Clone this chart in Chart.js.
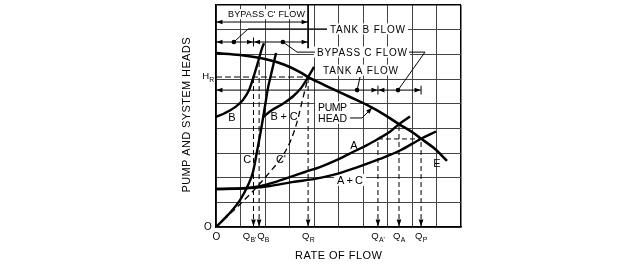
<!DOCTYPE html>
<html><head><meta charset="utf-8">
<script src="https://cdn.jsdelivr.net/npm/chart.js@4"></script>
<style>html,body{margin:0;padding:0;background:#fff;}canvas{display:block;}</style>
</head><body>
<canvas id="c" width="642" height="264"></canvas>
<script>
// ---------- data (x = rate of flow units, y = head units) ----------
const pumpHeadCurve = [[0,7.05],[0.98,6.97],[2.0,6.81],[2.82,6.57],[3.43,6.28],[3.76,6.08],[4.24,5.84],[4.86,5.55],[5.47,5.27],[6.16,4.95],[6.90,4.54],[7.47,4.17],[8.0,3.85],[8.37,3.58],[8.94,3.16],[9.43,2.68]];
const systemA = [[0,1.54],[0.98,1.56],[1.80,1.66],[2.41,1.82],[3.10,2.05],[3.63,2.23],[4.24,2.43],[4.94,2.72],[5.67,3.08],[6.16,3.32],[6.61,3.57],[7.10,3.86],[7.47,4.17],[7.92,4.48]];
const systemAC = [[0,1.54],[1.39,1.58],[2.20,1.66],[3.10,1.82],[4.04,1.95],[4.78,2.11],[5.67,2.39],[6.69,2.76],[7.51,3.10],[8.37,3.58],[8.98,3.87]];
const systemB = [[0,4.46],[0.37,4.62],[0.78,4.86],[1.10,5.15],[1.35,5.55],[1.53,6.08],[1.66,6.50],[1.76,6.85],[1.88,7.25],[1.96,7.45]];
const systemC = [[0,0],[0.49,0.49],[0.98,1.09],[1.31,1.70],[1.51,2.23],[1.67,3.04],[1.80,3.73],[1.92,4.42],[2.04,5.15],[2.12,5.63],[2.29,6.36],[2.45,7.05]];
const systemBC = [[1.92,4.46],[2.29,4.74],[2.72,4.99],[3.16,5.31],[3.47,5.63],[3.76,6.08],[4.0,6.49]];
const systemCPrime = [[0,0],[0.78,0.73],[1.59,1.54],[2.20,2.23],[2.69,2.84],[3.06,3.53],[3.31,4.26],[3.51,5.07],[3.63,5.55],[3.76,6.08]];

const headRefHR = 6.08;
const flowTickValues = [1.53, 1.76, 3.76, 6.61, 7.47, 8.37];
const flowTickSubs   = ["B'", "B", "R", "A'", "A", "P"];
const flowTickTops   = [6.08, 6.85, 6.08, 3.57, 4.17, 3.57];

// flow spans: [head level, from, to, dot]
const flowSpans = [
  [8.31, 0, 3.76, null],    // bypass C' flow
  [7.50, 0, 1.53, 0.73],    // tank B flow
  [7.50, 1.53, 3.76, 2.73], // bypass C flow
  [5.55, 0, 6.61, 5.76],    // tank A flow
  [5.55, 6.61, 8.37, 7.43]  // bypass C flow
];
const leaders = [
  [[0.73,7.50],[1.31,8.03],[4.53,8.03]],
  [[2.73,7.50],[3.31,7.09],[4.04,7.09]],
  [[7.88,7.09],[8.53,7.09],[7.43,5.55]],
  [[5.76,5.55],[5.88,6.08]],
  [[5.47,4.42],[5.96,4.42],[6.37,4.83]]
];
// [text, x, y, width(px) or null, boxed]
const textLabels = [
  ["BYPASS C' FLOW", 2.06, 8.63, 77, true, 9],
  ["TANK B FLOW", 6.18, 8.03, 75, true, 10],
  ["BYPASS C FLOW", 5.96, 7.09, 90, true, 10],
  ["TANK A FLOW", 5.90, 6.36, 75, true, 10],
  ["PUMP", 4.76, 4.86, 29, true, 10.5],
  ["HEAD", 4.76, 4.42, 29, true, 10.5],
  ["A", 5.63, 3.32, null, false, 11],
  ["A+C", 5.47, 1.91, 26, true, 11],
  ["E", 9.02, 2.59, null, false, 11],
  ["B", 0.65, 4.46, null, false, 11],
  ["B+C", 2.78, 4.50, 27, false, 11],
  ["C", 1.27, 2.76, null, false, 11],
  ["C'", 2.65, 2.76, null, false, 11]
];

// ---------- helpers ----------
const FONT = '"Liberation Sans", Arial, Helvetica, sans-serif';
const pts = a => a.map(p => ({x: p[0], y: p[1]}));
function drawText(ctx, text, cx, cy, size, width) {
  ctx.font = size + 'px ' + FONT;
  ctx.letterSpacing = '0px';
  const w0 = ctx.measureText(text).width;
  let sp = 0;
  if (width && text.length > 1) sp = (width - w0) / (text.length - 1);
  ctx.letterSpacing = sp + 'px';
  const w = width || w0;
  ctx.textAlign = 'left'; ctx.textBaseline = 'alphabetic';
  ctx.fillText(text, cx - w / 2, cy + size * 0.36);
  ctx.letterSpacing = '0px';
}
function drawSub(ctx, main, sub, cx, cy, size, align) {
  ctx.letterSpacing = '0px';
  ctx.font = size + 'px ' + FONT;
  const wm = ctx.measureText(main).width;
  ctx.font = (size * 0.72) + 'px ' + FONT;
  const ws = ctx.measureText(sub).width;
  const tw = wm + ws;
  let left = align === 'right' ? cx - tw : cx - tw / 2;
  ctx.textAlign = 'left'; ctx.textBaseline = 'alphabetic';
  ctx.font = size + 'px ' + FONT;
  ctx.fillText(main, left, cy + size * 0.36);
  ctx.font = (size * 0.72) + 'px ' + FONT;
  ctx.fillText(sub, left + wm + 0.3, cy + size * 0.36 + size * 0.25);
}
function arrowHead(ctx, x, y, dx, dy, len, half) {
  const nx = -dy, ny = dx;
  ctx.beginPath();
  ctx.moveTo(x, y);
  ctx.lineTo(x - dx * len + nx * half, y - dy * len + ny * half);
  ctx.lineTo(x - dx * len - nx * half, y - dy * len - ny * half);
  ctx.closePath(); ctx.fill();
}

const curveStyle = (data, w) => ({data: pts(data), showLine: true, borderColor: '#000', borderWidth: w, pointRadius: 0, cubicInterpolationMode: 'monotone', fill: false});
const thinStyle = (data, dash) => ({data: pts(data), showLine: true, borderColor: '#000', borderWidth: 1, pointRadius: 0, tension: 0, borderDash: dash || [], fill: false});

const datasets = [
  curveStyle(pumpHeadCurve, 2.6),
  curveStyle(systemA, 2.4),
  curveStyle(systemAC, 2.4),
  curveStyle(systemB, 2.4),
  curveStyle(systemC, 2.4),
  curveStyle(systemBC, 2.4),
  Object.assign(curveStyle(systemCPrime, 1.3), {borderDash: [6, 4]}),
  thinStyle([[0, headRefHR], [flowTickValues[2], headRefHR]], [6, 3]),
  thinStyle([[flowTickValues[3], flowTickTops[3]], [flowTickValues[5], flowTickTops[5]]], [5, 3])
];
flowTickValues.forEach((q, i) => datasets.push(thinStyle([[q, 0], [q, flowTickTops[i]]], [5, 3])));
flowSpans.forEach(s => datasets.push(thinStyle([[s[1], s[0]], [s[2], s[0]]])));
leaders.forEach(l => datasets.push(thinStyle(l)));
// end ticks of the flow spans
datasets.push(thinStyle([[flowTickValues[2], 9], [flowTickValues[2], 7.25]]));
datasets.push(thinStyle([[flowTickValues[0], 7.32], [flowTickValues[0], 7.68]]));
datasets.push(thinStyle([[flowTickValues[3], 5.37], [flowTickValues[3], 5.73]]));
datasets.push(thinStyle([[flowTickValues[5], 5.37], [flowTickValues[5], 5.73]]));

const annot = {
  id: 'annot',
  beforeDatasetsDraw(chart) {
    const ctx = chart.ctx, xs = chart.scales.x, ys = chart.scales.y;
    ctx.save();
    ctx.fillStyle = '#fff';
    textLabels.forEach(([t, x, y, w, boxed, size]) => {
      if (!boxed) return;
      const cx = xs.getPixelForValue(x), cy = ys.getPixelForValue(y);
      ctx.fillRect(cx - w / 2 - 3, cy - size * 0.55, w + 6, size * 1.1);
    });
    ctx.restore();
  },
  afterDatasetsDraw(chart) {
    const ctx = chart.ctx, xs = chart.scales.x, ys = chart.scales.y, ca = chart.chartArea;
    ctx.save();
    ctx.fillStyle = '#000';
    // labels
    textLabels.forEach(([t, x, y, w, boxed, size]) => {
      drawText(ctx, t, xs.getPixelForValue(x), ys.getPixelForValue(y), size, w);
    });
    // span arrows and dots
    flowSpans.forEach(([h, a, b, d]) => {
      const y = ys.getPixelForValue(h), xa = xs.getPixelForValue(a), xb = xs.getPixelForValue(b);
      arrowHead(ctx, xa + 0.5, y, -1, 0, 6, 2.3);
      arrowHead(ctx, xb - 0.5, y, 1, 0, 6, 2.3);
      if (d !== null) { ctx.beginPath(); ctx.arc(xs.getPixelForValue(d), y, 2.3, 0, Math.PI * 2); ctx.fill(); }
    });
    // pump head leader arrow
    const ph = leaders[4];
    { const p1 = [xs.getPixelForValue(ph[1][0]), ys.getPixelForValue(ph[1][1])];
      const p2 = [xs.getPixelForValue(ph[2][0]), ys.getPixelForValue(ph[2][1])];
      const L = Math.hypot(p2[0]-p1[0], p2[1]-p1[1]);
      arrowHead(ctx, p2[0], p2[1], (p2[0]-p1[0])/L, (p2[1]-p1[1])/L, 6, 2.2); }
    // arrowheads on drop lines
    flowTickValues.forEach(q => arrowHead(ctx, xs.getPixelForValue(q), ca.bottom - 0.5, 0, 1, 7, 2.3));
    // tick labels
    const offs = [-4, 4, 0, 0, 0, 0];
    flowTickValues.forEach((q, i) => drawSub(ctx, 'Q', flowTickSubs[i], xs.getPixelForValue(q) + offs[i], ca.bottom + 9, 9.5));
    // H_R
    drawSub(ctx, 'H', 'R', ca.left - 2, ys.getPixelForValue(headRefHR) - 1, 9.5, 'right');
    // origins
    drawText(ctx, 'O', ca.left - 8, ca.bottom - 1, 10, null);
    drawText(ctx, 'O', ca.left + 0.5, ca.bottom + 9, 10, null);
    // axis titles
    drawText(ctx, 'RATE OF FLOW', (ca.left + ca.right) / 2, ca.bottom + 28, 11, 87);
    ctx.save();
    ctx.translate(ca.left - 30, (ca.top + ca.bottom) / 2 - 1);
    ctx.rotate(-Math.PI / 2);
    drawText(ctx, 'PUMP AND SYSTEM HEADS', 0, 0, 11, 155);
    ctx.restore();
    ctx.restore();
  }
};

const gridColor = max => c => (c.tick && c.tick.value === max) ? '#000' : '#444';
const gridWidth = max => c => (c.tick && c.tick.value === max) ? 1.5 : 1;

new Chart(document.getElementById('c'), {
  type: 'scatter',
  data: {datasets},
  options: {
    responsive: false, animation: false,
    layout: {padding: {left: 216, right: 181, top: 5, bottom: 37}},
    plugins: {legend: {display: false}, tooltip: {enabled: false}},
    scales: {
      x: {type: 'linear', min: 0, max: 10, ticks: {display: false, stepSize: 1}, grid: {color: gridColor(10), lineWidth: gridWidth(10), drawTicks: false}, border: {color: '#000', width: 1.5}, title: {display: false}},
      y: {type: 'linear', min: 0, max: 9, ticks: {display: false, stepSize: 1}, grid: {color: gridColor(9), lineWidth: gridWidth(9), drawTicks: false}, border: {color: '#000', width: 1.5}, title: {display: false}}
    }
  },
  plugins: [annot]
});
</script>
</body></html>
